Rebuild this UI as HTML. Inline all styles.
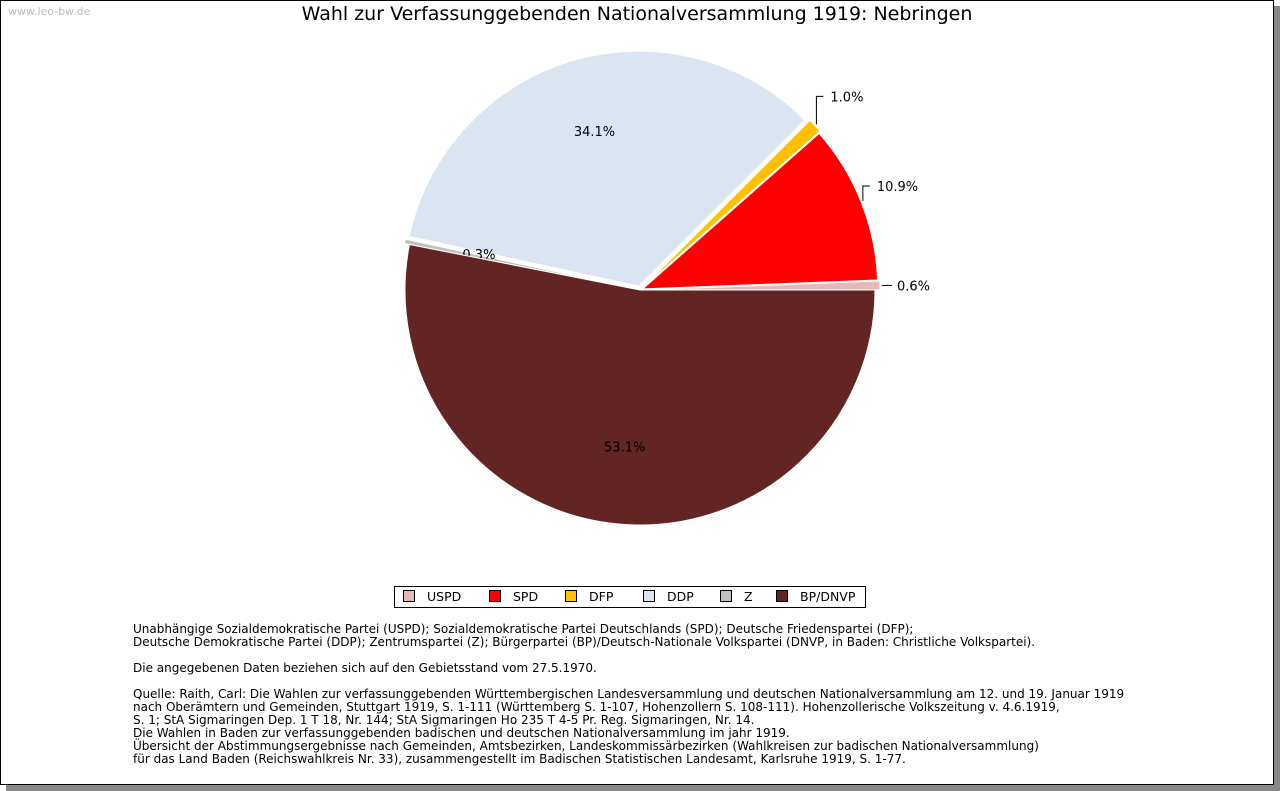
<!DOCTYPE html>
<html><head><meta charset="utf-8"><style>
body{margin:0;width:1280px;height:791px;background:#fff;font-family:"DejaVu Sans","Liberation Sans",sans-serif;overflow:hidden}
#frame{position:absolute;left:0;top:0;width:1272px;height:783px;border:1px solid #000;background:#fff;box-shadow:6px 6px 0 #888}
#wm{position:absolute;left:8px;top:5px;font-size:11px;color:#bbb}
#title{position:absolute;left:0;width:1274px;top:3px;text-align:center;font-size:19px;color:#000}
#legend{position:absolute;left:394px;top:586px;width:470px;height:20px;border:1px solid #000;font-size:12.5px}
.le{position:absolute;top:2px}
.sw{display:inline-block;width:10px;height:10px;border:1px solid #000;margin-right:12px;vertical-align:-1px}
#notes{position:absolute;left:133px;top:623px;font-size:12px;line-height:13px;color:#000;white-space:pre}
</style></head><body>
<div id="frame"></div>
<div id="wm">www.leo-bw.de</div>
<div id="title">Wahl zur Verfassunggebenden Nationalversammlung 1919: Nebringen</div>
<svg id="pie" width="1280" height="791" style="position:absolute;left:0;top:0" font-family="DejaVu Sans, Liberation Sans, sans-serif" font-size="13"></svg>
<div id="legend">
<span class="le" style="left:8px"><span class="sw" style="background:#e6b8b8"></span>USPD</span>
<span class="le" style="left:94px"><span class="sw" style="background:#ff0000"></span>SPD</span>
<span class="le" style="left:170px"><span class="sw" style="background:#ffc000"></span>DFP</span>
<span class="le" style="left:248px"><span class="sw" style="background:#dbe5f1"></span>DDP</span>
<span class="le" style="left:325px"><span class="sw" style="background:#c0c0c0"></span>Z</span>
<span class="le" style="left:381px"><span class="sw" style="background:#632523"></span>BP/DNVP</span>
</div>
<div id="notes">Unabhängige Sozialdemokratische Partei (USPD); Sozialdemokratische Partei Deutschlands (SPD); Deutsche Friedenspartei (DFP);
Deutsche Demokratische Partei (DDP); Zentrumspartei (Z); Bürgerpartei (BP)/Deutsch-Nationale Volkspartei (DNVP, in Baden: Christliche Volkspartei).

Die angegebenen Daten beziehen sich auf den Gebietsstand vom 27.5.1970.

Quelle: Raith, Carl: Die Wahlen zur verfassunggebenden Württembergischen Landesversammlung und deutschen Nationalversammlung am 12. und 19. Januar 1919
nach Oberämtern und Gemeinden, Stuttgart 1919, S. 1-111 (Württemberg S. 1-107, Hohenzollern S. 108-111). Hohenzollerische Volkszeitung v. 4.6.1919,
S. 1; StA Sigmaringen Dep. 1 T 18, Nr. 144; StA Sigmaringen Ho 235 T 4-5 Pr. Reg. Sigmaringen, Nr. 14.
Die Wahlen in Baden zur verfassunggebenden badischen und deutschen Nationalversammlung im jahr 1919.
Übersicht der Abstimmungsergebnisse nach Gemeinden, Amtsbezirken, Landeskommissärbezirken (Wahlkreisen zur badischen Nationalversammlung)
für das Land Baden (Reichswahlkreis Nr. 33), zusammengestellt im Badischen Statistischen Landesamt, Karlsruhe 1919, S. 1-77.</div>
<script>
const categories=["USPD","SPD","DFP","DDP","Z","BP/DNVP"];
const values=[0.6,10.9,1.0,34.1,0.3,53.1];
const colors=["#e6b8b8","#ff0000","#ffc000","#dbe5f1","#c0c0c0","#632523"];
const explode=[5,3,5,4,5,0];
const outside=[true,true,true,false,false,false];
const svg=document.getElementById('pie');
const NS='http://www.w3.org/2000/svg';
const cx=640,cy=290,r=235;
const total=values.reduce((a,b)=>a+b,0);
let a0=0;
values.forEach((v,i)=>{
  const a1=a0+v/total*2*Math.PI;
  const mid=(a0+a1)/2;
  const ox=cx+explode[i]*Math.cos(mid),oy=cy-explode[i]*Math.sin(mid);
  const x0=ox+r*Math.cos(a0),y0=oy-r*Math.sin(a0),x1=ox+r*Math.cos(a1),y1=oy-r*Math.sin(a1);
  const large=(a1-a0)>Math.PI?1:0;
  const p=document.createElementNS(NS,'path');
  p.setAttribute('d',`M${ox},${oy}L${x0},${y0}A${r},${r} 0 ${large} 0 ${x1},${y1}Z`);
  p.setAttribute('fill',colors[i]);
  p.setAttribute('stroke','#fff');p.setAttribute('stroke-width','1');
  
  
  svg.appendChild(p);
  const t=document.createElementNS(NS,'text');
  t.textContent=v.toFixed(1)+'%';
  if(outside[i]){
    const ex=ox+(r+2)*Math.cos(mid),ey=oy-(r+2)*Math.sin(mid);
    const ln=document.createElementNS(NS,'path');
    let d,tx,ty;
    if(Math.sin(mid)>0.3){const up=Math.sin(mid)>0.6?28:15;d=`M${ex},${ey}V${ey-up}H${ex+7}`;tx=ex+14;ty=ey-up+5;}
    else{d=`M${ex},${ey}H${ex+10}`;tx=ex+15;ty=ey+5;}
    ln.setAttribute('d',d);ln.setAttribute('stroke','#000');ln.setAttribute('fill','none');
    
    
    svg.appendChild(ln);
    t.setAttribute('x',tx);t.setAttribute('y',ty);
  }else{
    const lr=r*0.67;
    const dy=i===4?-3:(i===3?-4:0);
    t.setAttribute('x',ox+lr*Math.cos(mid)+(i===4?-2:0));t.setAttribute('y',oy-lr*Math.sin(mid)+5+dy);
    t.setAttribute('text-anchor','middle');
  }
  
  
  svg.appendChild(t);
  a0=a1;
});
</script>
</body></html>
